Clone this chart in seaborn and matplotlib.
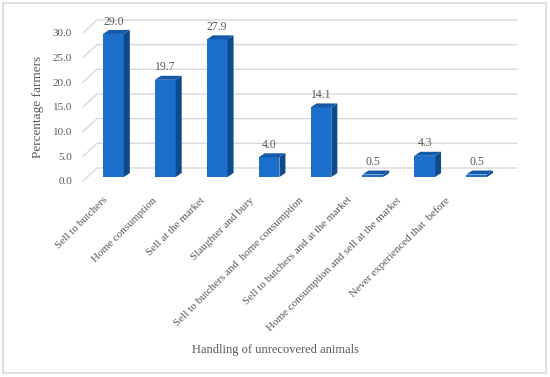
import numpy as np
import pandas as pd
import seaborn as sns
import matplotlib.pyplot as plt
from matplotlib.patches import Polygon, Rectangle
from matplotlib.transforms import ScaledTranslation

# data
categories = ['Sell to butchers', 'Home consumption', 'Sell at the market',
              'Slaughter and bury', 'Sell to butchers and  home consumption',
              'Sell to butchers and at the market',
              'Home consumption and sell at the market',
              'Never experienced that  before']
values = [29.0, 19.7, 27.9, 4.0, 14.1, 0.5, 4.3, 0.5]
yticks = [0, 5, 10, 15, 20, 25, 30]

front_col = '#1C6FCB'
side_col = '#0C4A8C'
top_col = '#1659A8'
text_col = '#595959'
grid_col = '#D9D9D9'

sns.set_style('white')
plt.rcParams['font.family'] = ['Liberation Serif', 'DejaVu Serif']

fig = plt.figure(figsize=(5.5, 3.77), dpi=100)
ax = fig.add_axes([83 / 550, 196 / 377, 415 / 550, 148 / 377])

n = len(categories)
df = pd.DataFrame({'cat': categories, 'val': values})
sns.barplot(data=df, x='cat', y='val', color=front_col, saturation=1,
            width=0.4, ax=ax, zorder=3)
ax.set_xlim(-0.5, n - 0.5)
ax.set_ylim(0, 30)

# pixel -> data unit helpers (axes is 415 x 148 px)
px_x = n / 415.0
px_y = 30 / 148.0

# bars sit a little behind the front plane
bar_off = ax.transData + ScaledTranslation(4.5 / 100, 4 / 100, fig.dpi_scale_trans)
ddx, ddy = 6 * px_x, 4 * px_y
for p in list(ax.patches):
    p.set_transform(bar_off)
    p.set_edgecolor('none')
    x0, w, h = p.get_x(), p.get_width(), p.get_height()
    side = Polygon([(x0 + w, 0), (x0 + w + ddx, ddy), (x0 + w + ddx, h + ddy), (x0 + w, h)],
                   closed=True, facecolor=side_col, edgecolor='none',
                   transform=bar_off, zorder=3, clip_on=False)
    top = Polygon([(x0, h), (x0 + ddx, h + ddy), (x0 + w + ddx, h + ddy), (x0 + w, h)],
                  closed=True, facecolor=top_col, edgecolor='none',
                  transform=bar_off, zorder=3, clip_on=False)
    ax.add_patch(side)
    ax.add_patch(top)

# back wall gridlines with slanted floor/wall edges
gx, gy = 14 * px_x, 13 * px_y
for t in yticks:
    ax.plot([-0.5, -0.5 + gx, n - 0.5 + gx + 5 * px_x], [t, t + gy, t + gy],
            color=grid_col, lw=1, zorder=1, clip_on=False)

# value labels
for i, v in enumerate(values):
    ax.annotate(f'{v:.1f}', (i, v), xytext=(3.2, 7.5), textcoords='offset points',
                ha='center', va='bottom', fontsize=8.5, color=text_col)

sns.despine(ax=ax, left=True, bottom=True)
ax.set_yticks(yticks)
ax.set_yticklabels([f'{t:.1f}' for t in yticks], fontsize=8, color=text_col)
# category labels drift left slightly (perspective in the original)
ax.set_xticks(np.arange(n) - (6 + 3 * np.arange(n)) * px_x)
ax.set_xticklabels(categories, rotation=45, ha='right', rotation_mode='anchor',
                   fontsize=8, color=text_col)
ax.tick_params(axis='y', length=0, pad=8)
ax.tick_params(axis='x', length=0, pad=10.5)
ax.set_ylabel('Percentage farmers', fontsize=9.5, color=text_col, labelpad=6)
ax.set_xlabel('')
fig.text(275 / 550, 1 - 350 / 377, 'Handling of unrecovered animals',
         ha='center', va='center', fontsize=9, color=text_col)

# light frame around the whole chart
fig.patches.append(Rectangle((3 / 550, 4 / 377), 543 / 550, 370 / 377,
                             transform=fig.transFigure, fill=False,
                             edgecolor='#D9D9D9', lw=1.2))

fig.savefig('out.png', dpi=100)
